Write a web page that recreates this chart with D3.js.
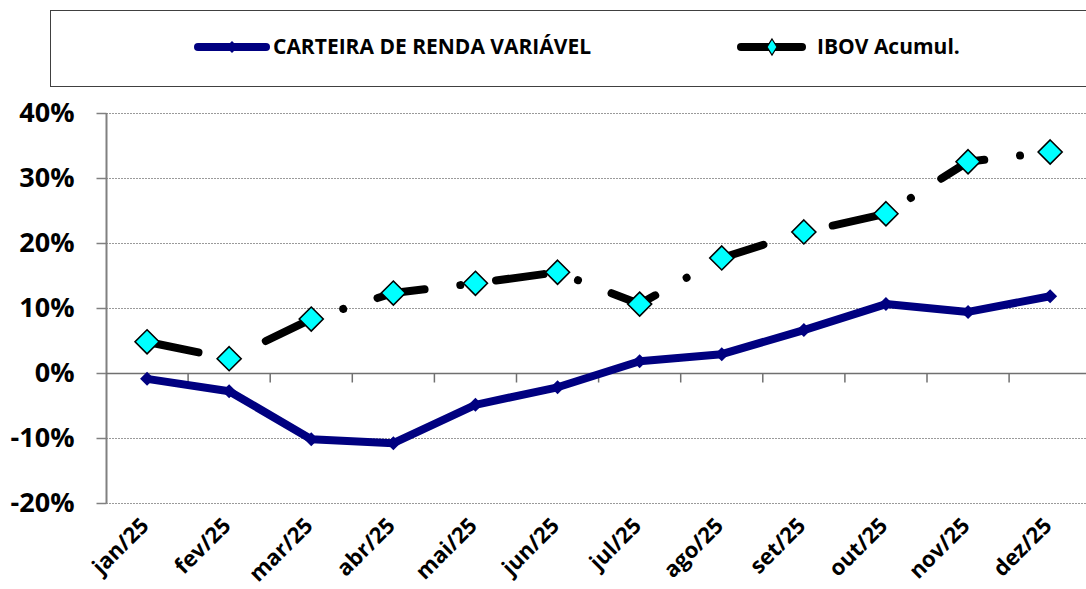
<!DOCTYPE html>
<html>
<head>
<meta charset="utf-8">
<script src="https://cdn.jsdelivr.net/npm/d3@7"></script>
<style>
  html, body { margin: 0; padding: 0; background: #fff; }
  svg { display: block; font-family: 'Open Sans', sans-serif; font-weight: bold; }
</style>
</head>
<body>
<div id="app"></div>
<script>
const months = ['jan/25', 'fev/25', 'mar/25', 'abr/25', 'mai/25', 'jun/25',
  'jul/25', 'ago/25', 'set/25', 'out/25', 'nov/25', 'dez/25'];
const carteira = [-0.009, -0.028, -0.102, -0.108, -0.049, -0.022,
  0.018, 0.029, 0.066, 0.106, 0.094, 0.118];
const ibov = [0.048, 0.022, 0.083, 0.123, 0.138, 0.155,
  0.106, 0.177, 0.217, 0.245, 0.325, 0.340];
const yTicks = [-0.2, -0.1, 0, 0.1, 0.2, 0.3, 0.4];
const seriesNames = ['CARTEIRA DE RENDA VARIÁVEL', 'IBOV Acumul.'];

const width = 1086;
const height = 589;
const plot = { left: 106, top: 113, bottom: 503, band: 82.1 };

const svg = d3.select('#app').append('svg')
  .attr('width', width)
  .attr('height', height);

const x = d3.scaleBand()
  .domain(months)
  .range([plot.left, plot.left + plot.band * months.length])
  .padding(0);
const xc = m => x(m) + x.bandwidth() / 2;

const y = d3.scaleLinear()
  .domain([-0.2, 0.4])
  .range([plot.bottom, plot.top]);

const pct = d3.formatLocale({ decimal: ',', thousands: '.', grouping: [3], currency: ['', ''], minus: '-' }).format('.0%');

// gridlines
svg.append('g')
  .selectAll('line')
  .data(yTicks)
  .enter().append('line')
  .attr('x1', plot.left)
  .attr('x2', width)
  .attr('y1', d => Math.round(y(d)) + 0.5)
  .attr('y2', d => Math.round(y(d)) + 0.5)
  .attr('stroke', '#9a9a9a')
  .attr('stroke-width', 1)
  .attr('stroke-dasharray', '2 1');

// y axis
const yAxis = svg.append('g')
  .attr('transform', `translate(${plot.left + 0.5},0)`)
  .call(d3.axisLeft(y).tickValues(yTicks).tickFormat(pct).tickSize(10).tickPadding(22));
yAxis.select('.domain').attr('stroke', '#808080').attr('stroke-width', 2)
  .attr('d', `M0,${plot.top}V${plot.bottom}`);
yAxis.selectAll('.tick line').attr('stroke', '#808080').attr('stroke-width', 1.5);
yAxis.selectAll('.tick text')
  .attr('fill', '#000')
  .style('font-size', '27px')
  .style('font-family', "'Open Sans', sans-serif")
  .style('font-weight', 'bold');

// x axis at zero
const zeroY = Math.round(y(0)) + 0.5;
svg.append('line')
  .attr('x1', plot.left)
  .attr('x2', width)
  .attr('y1', zeroY)
  .attr('y2', zeroY)
  .attr('stroke', '#707070')
  .attr('stroke-width', 1.5);
svg.append('g')
  .selectAll('line')
  .data(months)
  .enter().append('line')
  .attr('x1', d => x(d) + x.bandwidth())
  .attr('x2', d => x(d) + x.bandwidth())
  .attr('y1', zeroY)
  .attr('y2', zeroY + 9)
  .attr('stroke', '#707070')
  .attr('stroke-width', 1.5);

// x labels
svg.append('g')
  .selectAll('text')
  .data(months)
  .enter().append('text')
  .attr('transform', d => `translate(${xc(d) + 3},${plot.bottom + 24}) rotate(-45)`)
  .attr('text-anchor', 'end')
  .style('font-size', '22px')
  .text(d => d);

// lines
const line = d3.line()
  .x((d, i) => xc(months[i]))
  .y(d => y(d));

svg.append('path')
  .datum(carteira)
  .attr('d', line)
  .attr('fill', 'none')
  .attr('stroke', '#000080')
  .attr('stroke-width', 8)
  .attr('stroke-linejoin', 'round');

svg.append('path')
  .datum(ibov)
  .attr('d', line)
  .attr('fill', 'none')
  .attr('stroke', '#000')
  .attr('stroke-width', 8)
  .attr('stroke-linecap', 'round')
  .attr('stroke-linejoin', 'round')
  .attr('stroke-dasharray', '48 36 0.01 36')
  .attr('stroke-dashoffset', 115.5);

const diamond = r => `M0,${-r}L${r},0L0,${r}L${-r},0Z`;

svg.append('g')
  .selectAll('path')
  .data(carteira)
  .enter().append('path')
  .attr('d', diamond(7))
  .attr('transform', (d, i) => `translate(${xc(months[i])},${y(d)})`)
  .attr('fill', '#000080');

svg.append('g')
  .selectAll('path')
  .data(ibov)
  .enter().append('path')
  .attr('d', diamond(12))
  .attr('transform', (d, i) => `translate(${xc(months[i])},${y(d)})`)
  .attr('fill', '#00ffff')
  .attr('stroke', '#000')
  .attr('stroke-width', 1.6);

// legend
const legend = svg.append('g');
legend.append('rect')
  .attr('x', 50.5)
  .attr('y', 10.5)
  .attr('width', 1100)
  .attr('height', 76)
  .attr('fill', '#fff')
  .attr('stroke', '#404040')
  .attr('stroke-width', 1);

const legendY = 47;
legend.append('line')
  .attr('x1', 198).attr('x2', 266)
  .attr('y1', legendY).attr('y2', legendY)
  .attr('stroke', '#000080').attr('stroke-width', 8).attr('stroke-linecap', 'round');
legend.append('path')
  .attr('d', diamond(6))
  .attr('transform', `translate(232,${legendY})`)
  .attr('fill', '#000080');
legend.append('text')
  .attr('x', 273).attr('y', legendY + 7)
  .style('font-size', '21px')
  .text(seriesNames[0]);

legend.append('line')
  .attr('x1', 741).attr('x2', 802)
  .attr('y1', legendY).attr('y2', legendY)
  .attr('stroke', '#000').attr('stroke-width', 8).attr('stroke-linecap', 'round');
legend.append('path')
  .attr('d', 'M0,-8L5,0L0,8L-5,0Z')
  .attr('transform', `translate(772,${legendY})`)
  .attr('fill', '#00ffff').attr('stroke', '#000').attr('stroke-width', 1.2);
legend.append('text')
  .attr('x', 817).attr('y', legendY + 7)
  .style('font-size', '21px')
  .text(seriesNames[1]);
</script>
</body>
</html>
